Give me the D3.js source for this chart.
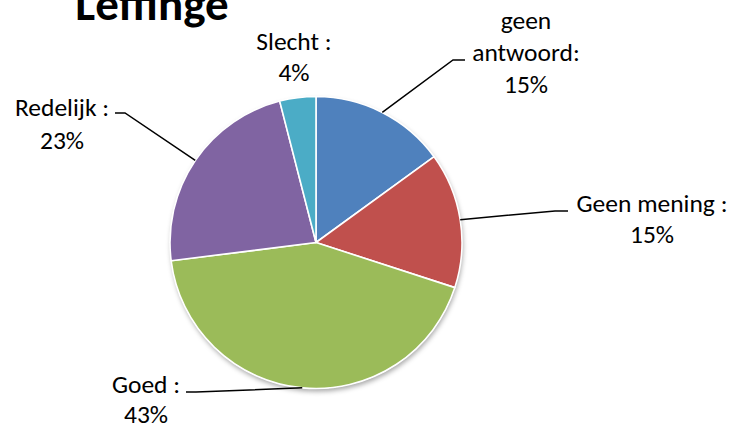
<!DOCTYPE html>
<html><head><meta charset="utf-8">
<script src="https://cdn.jsdelivr.net/npm/d3@7"></script>
<style>html,body{margin:0;padding:0;background:#fff;}svg{display:block;}</style>
</head><body>
<svg id="chart" width="736" height="428"></svg>
<script>
const title = "Leffinge";
const categories = ["geen antwoord", "Geen mening", "Goed", "Redelijk", "Slecht"];
const values = [15, 15, 43, 23, 4];
const labelText = [["geen", "antwoord:", "15%"], ["Geen mening :", "15%"], ["Goed :", "43%"], ["Redelijk :", "23%"], ["Slecht :", "4%"]];
const colors = ["#4F81BD", "#C0504D", "#9BBB59", "#8064A2", "#4BACC6"];

// layout (not data)
const cx = 316, cy = 242.5, R = 146;
const labelLayout = [
  {x: 526, y: 29, lh: 32, leader: [[453, 60], [465, 60]]},
  {x: 652, y: 212, lh: 31, leader: [[555, 211], [568, 211]]},
  {x: 146, y: 393, lh: 30, leader: [[196, 392], [186, 392]]},
  {x: 62, y: 116, lh: 33, leader: [[125, 113], [115, 113]]},
  {x: 294, y: 50, lh: 31, leader: null}
];
const font = "Carlito, Lato, 'Open Sans', sans-serif";

const svg = d3.select("#chart");
const defs = svg.append("defs");
const f = defs.append("filter").attr("id", "sh").attr("x", "-20%").attr("y", "-20%").attr("width", "140%").attr("height", "140%");
f.append("feDropShadow").attr("dx", 1).attr("dy", 3).attr("stdDeviation", 2.5).attr("flood-color", "#000").attr("flood-opacity", 0.35);

const data = categories.map((c, i) => ({c, v: values[i], i}));
const pie = d3.pie().value(d => d.v).sort(null).startAngle(0).endAngle(2 * Math.PI);
const arcs = pie(data);
const arc = d3.arc().innerRadius(0).outerRadius(R);

const g = svg.append("g").attr("transform", `translate(${cx},${cy})`);
g.append("circle").attr("r", R).attr("fill", "#fff").attr("filter", "url(#sh)");
g.selectAll("path").data(arcs).enter().append("path")
  .attr("d", arc)
  .attr("fill", d => colors[d.data.i])
  .attr("stroke", "#fff").attr("stroke-width", 1.6).attr("stroke-linejoin", "round");

// leaders
arcs.forEach(a => {
  const L = labelLayout[a.data.i];
  if (!L.leader) return;
  const m = (a.startAngle + a.endAngle) / 2;
  const p0 = [cx + R * Math.sin(m), cy - R * Math.cos(m)];
  const pts = [p0].concat(L.leader);
  svg.append("path").attr("d", d3.line()(pts)).attr("fill", "none").attr("stroke", "#000").attr("stroke-width", 1.5);
});

// labels
arcs.forEach(a => {
  const L = labelLayout[a.data.i];
  const t = svg.append("text").attr("text-anchor", "middle").attr("font-family", font).attr("font-size", 25.5).attr("fill", "#000");
  labelText[a.data.i].forEach((s, k) => {
    t.append("tspan").attr("x", L.x).attr("y", L.y + k * L.lh).text(s);
  });
});

svg.append("text").attr("x", 152).attr("y", 20).attr("text-anchor", "middle")
  .attr("font-family", font).attr("font-weight", "bold").attr("font-size", 47).attr("fill", "#000").text(title);
</script>
</body></html>
